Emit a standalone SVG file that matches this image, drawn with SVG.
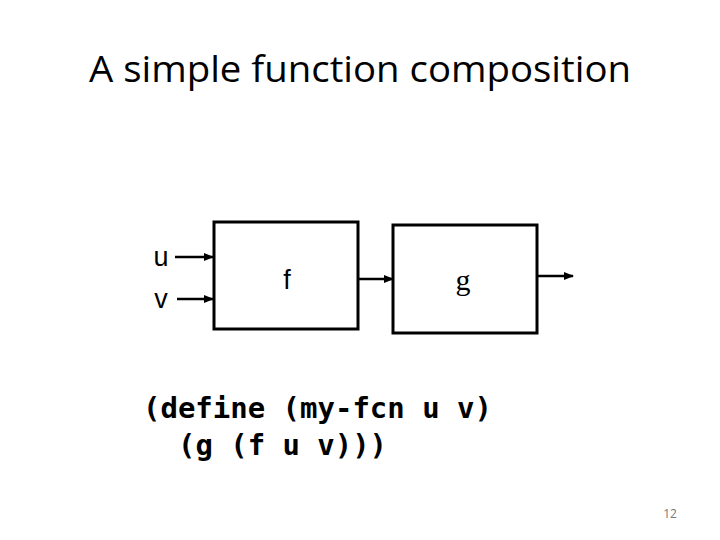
<svg xmlns="http://www.w3.org/2000/svg" width="720" height="540" viewBox="0 0 720 540">
<style>
.box{fill:#fff;stroke:#000;stroke-width:3}
.ln{stroke:#000;stroke-width:2.5;fill:none}
.lbl{font-family:"Liberation Sans",Arial,sans-serif;font-size:27px;fill:#000}
.code{font-family:"DejaVu Sans Mono","Liberation Mono",monospace;font-weight:bold;font-size:28px;fill:#000}
</style>
<defs>
<marker id="ah" markerWidth="10" markerHeight="8" refX="9" refY="4" orient="auto" markerUnits="userSpaceOnUse">
<path d="M0,0 L10,4 L0,8 z" fill="#000"/>
</marker>
</defs>
<rect width="720" height="540" fill="#fff"/>
<text x="360" y="82" text-anchor="middle" font-family="'Open Sans','Liberation Sans',sans-serif" font-size="36" textLength="542" lengthAdjust="spacingAndGlyphs">A simple function composition</text>
<g id="connectors">
<line class="ln" x1="175" y1="257" x2="213" y2="257" marker-end="url(#ah)"/>
<line class="ln" x1="177" y1="299" x2="213" y2="299" marker-end="url(#ah)"/>
<line class="ln" x1="358" y1="279" x2="393" y2="279" marker-end="url(#ah)"/>
<line class="ln" x1="537" y1="276" x2="573" y2="276" marker-end="url(#ah)"/>
</g>
<g id="u"><text class="lbl" x="161" y="266" text-anchor="middle">u</text></g>
<g id="v"><text class="lbl" x="161" y="308" text-anchor="middle">v</text></g>
<g id="f">
<rect class="box" x="214" y="222" width="144" height="107"/>
<text class="lbl" x="287" y="289" text-anchor="middle">f</text>
</g>
<g id="g">
<rect class="box" x="393" y="225" width="144" height="108"/>
<text x="463" y="290" text-anchor="middle" font-family="'Liberation Serif','Times New Roman',serif" font-size="30">g</text>
</g>
<text class="code" x="143" y="418" textLength="349" lengthAdjust="spacingAndGlyphs">(define (my-fcn u v)</text>
<text class="code" x="178" y="455" textLength="209" lengthAdjust="spacingAndGlyphs">(g (f u v)))</text>
<text x="670" y="518" text-anchor="middle" font-family="'Open Sans','Liberation Sans',sans-serif" font-size="12" fill="#777">12</text>
</svg>
